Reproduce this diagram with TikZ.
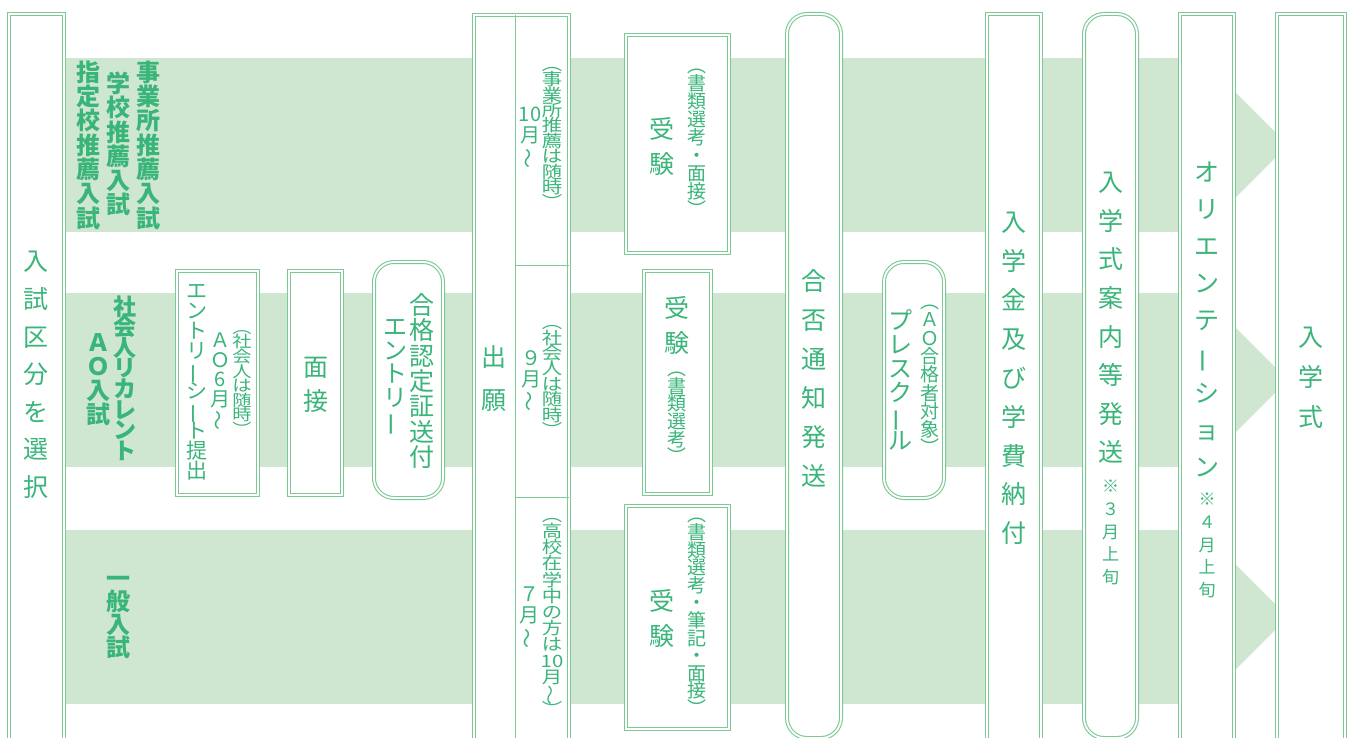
\documentclass[tikz,border=0pt]{standalone}
\usepackage{fontspec}
\newfontfamily\jp{Noto Sans CJK JP}
\newfontfamily\jpw[FakeStretch=1.2]{Noto Sans CJK JP}
\usepackage{tikz}
\usetikzlibrary{positioning}
\definecolor{bandgreen}{RGB}{207,231,209}
\definecolor{linegreen}{RGB}{125,201,150}
\definecolor{txtgreen}{RGB}{58,181,122}
\newcommand{\tsize}[2]{\jp\fontsize{#1}{#2}\selectfont\lineskiplimit=-50pt\relax}
\newcommand{\tsizew}[2]{\jpw\fontsize{#1}{#2}\selectfont\lineskiplimit=-50pt\relax}
\newcommand{\chouon}{\rotatebox[origin=c]{90}{ー}}
\newcommand{\namisen}{\rotatebox[origin=c]{90}{～}}
\begin{document}
\begin{tikzpicture}[x=0.5pt,y=-0.5pt,
  flowbox/.style={draw=linegreen,double=white,double distance=0.9pt,line width=0.55pt,fill=white,inner sep=0pt},
  roundbox/.style={flowbox,rounded corners=10pt},
  vtxt/.style={align=center,inner sep=0pt,text=txtgreen},
  bandlabel/.style={vtxt,font=\tsize{12}{12.15}\bfseries}]
\useasboundingbox (0,0) rectangle (1354,738);
% bands with arrow heads
\foreach \yt in {58,293,530}{
  \fill[bandgreen] (50,\yt) rectangle (1236,\yt+174);
  \fill[bandgreen] (1236,\yt+35) -- (1288,\yt+87) -- (1236,\yt+139) -- cycle;
}
% boxes
\node[flowbox,minimum width=27.5pt,minimum height=372pt] (select) at (36.5,386) {};
\node[flowbox,minimum width=40.5pt,minimum height=112pt] (entry) at (217.5,383) {};
\node[flowbox,minimum width=26.5pt,minimum height=112pt] (interview) at (315.5,383) {};
\node[roundbox,minimum width=34.5pt,minimum height=118pt] (cert) at (408.5,380) {};
\node[flowbox,minimum width=47.5pt,minimum height=371.5pt] (apply) at (521.5,386.5) {};
\node[flowbox,minimum width=51.5pt,minimum height=109pt] (examone) at (677.5,144) {};
\node[flowbox,minimum width=33.5pt,minimum height=111.5pt] (examtwo) at (677.5,382.5) {};
\node[flowbox,minimum width=51.5pt,minimum height=111.5pt] (examthree) at (677.5,617.5) {};
\node[roundbox,minimum width=27pt,minimum height=362pt] (result) at (814,376) {};
\node[roundbox,minimum width=30pt,minimum height=118pt] (school) at (914,380) {};
\node[flowbox,minimum width=27pt,minimum height=372pt] (fee) at (1014,386) {};
\node[roundbox,minimum width=26.5pt,minimum height=362pt] (guide) at (1110.5,376) {};
\node[flowbox,minimum width=27pt,minimum height=372pt] (orient) at (1207,386) {};
\node[flowbox,minimum width=34pt,minimum height=372pt] (ceremony) at (1311,386) {};
% cells of the application box
\draw[linegreen,line width=0.5pt] (515,15) -- (515,760) (515,265) -- (569,265) (515,497) -- (569,497);
% band labels
\node[bandlabel] (lb-office) at (148,145) {事\\業\\所\\推\\薦\\入\\試};
\node[bandlabel] (lb-school) at (118,144) {学\\校\\推\\薦\\入\\試};
\node[bandlabel] (lb-desig) at (88,145) {指\\定\\校\\推\\薦\\入\\試};
\node[bandlabel,font=\tsize{11.5}{10.3}\bfseries] (lb-recur) at (125,378) {社\\会\\人\\リ\\カ\\レ\\ン\\ト};
\node[bandlabel,font=\tsize{12}{12}\bfseries] (lb-ao) at (98,380) {Ａ\\Ｏ\\入\\試};
\node[bandlabel,font=\tsize{12}{11.5}\bfseries] (lb-general) at (118,618) {一\\般\\入\\試};
% texts
\node[vtxt,font=\tsize{12.5}{18.8}] (t-select) at (36.5,375) {入\\試\\区\\分\\を\\選\\択};
\node[vtxt,font=\tsize{10.5}{10}] (t-entry) at (197,382) {エ\\ン\\ト\\リ\\\chouon\\シ\\\chouon\\ト\\提\\出};
\node[vtxt,font=\tsize{10}{9.8}] (t-entry-ao) at (220,382) {Ａ\\Ｏ\\6\\月\\\namisen};
\node[vtxt,font=\tsizew{8}{7.3}] (t-entry-note) at (242,383) {︵\\社\\会\\人\\は\\随\\時\\︶};
\node[vtxt,font=\tsize{12.5}{17}] (t-interview) at (315.5,385) {面\\接};
\node[vtxt,font=\tsize{12.5}{12.7}] (t-cert) at (422,381) {合\\格\\認\\定\\証\\送\\付};
\node[vtxt,font=\tsize{12}{11.7}] (t-cert-entry) at (395,378) {エ\\ン\\ト\\リ\\\chouon};
\node[vtxt,font=\tsize{12.5}{21.5}] (t-apply) at (494,379) {出\\願};
\node[vtxt,font=\tsizew{8.5}{7.7}] (t-office-note) at (552,138) {︵\\事\\業\\所\\推\\薦\\は\\随\\時\\︶};
\node[vtxt,font=\tsize{10}{10.5}] (t-office-date) at (530,138) {10\\月\\\namisen};
\node[vtxt,font=\tsizew{8.5}{7.7}] (t-recur-note) at (552,381) {︵\\社\\会\\人\\は\\随\\時\\︶};
\node[vtxt,font=\tsize{10}{10.5}] (t-recur-date) at (531,381) {９\\月\\\namisen};
\node[vtxt,font=\tsizew{8.5}{8.1}] (t-high-note) at (552,617) {︵\\高\\校\\在\\学\\中\\の\\方\\は\\10\\月\\\namisen\\︶};
\node[vtxt,font=\tsize{10}{10.5}] (t-high-date) at (529,618) {７\\月\\\namisen};
\node[vtxt,font=\tsize{12.5}{17.5}] (t-exam1) at (662,146) {受\\験};
\node[vtxt,font=\tsize{9.5}{9}] (t-exam1-note) at (697,143) {︵\\書\\類\\選\\考\\・\\面\\接\\︶};
\node[vtxt,font=\tsize{12.5}{17.5}] (t-exam2) at (677,325) {受\\験};
\node[vtxt,font=\tsize{9.5}{8.8}] (t-exam2-note) at (677,418) {︵\\書\\類\\選\\考\\︶};
\node[vtxt,font=\tsize{12.5}{17.5}] (t-exam3) at (662,618) {受\\験};
\node[vtxt,font=\tsize{9.5}{8.8}] (t-exam3-note) at (697,617) {︵\\書\\類\\選\\考\\・\\筆\\記\\・\\面\\接\\︶};
\node[vtxt,font=\tsize{12.5}{19.5}] (t-result) at (814,378) {合\\否\\通\\知\\発\\送};
\node[vtxt,font=\tsize{9.5}{9.15}] (t-school-note) at (930,380) {︵\\Ａ\\Ｏ\\合\\格\\者\\対\\象\\︶};
\node[vtxt,font=\tsize{12}{12}] (t-school) at (900,380) {プ\\レ\\ス\\ク\\\chouon\\ル};
\node[vtxt,font=\tsize{12.5}{19.45}] (t-fee) at (1014,378.5) {入\\学\\金\\及\\び\\学\\費\\納\\付};
\node[vtxt,font=\tsize{12.5}{19.3}] (t-guide) at (1110.5,318) {入\\学\\式\\案\\内\\等\\発\\送};
\node[vtxt,font=\tsize{8.5}{11.4}] (t-guide-note) at (1110.5,532.5) {※\\３\\月\\上\\旬};
\node[vtxt,font=\tsize{12.5}{18.45}] (t-orient) at (1207,319.5) {オ\\リ\\エ\\ン\\テ\\\chouon\\シ\\ョ\\ン};
\node[vtxt,font=\tsize{8.5}{11.4}] (t-orient-note) at (1207,545.5) {※\\４\\月\\上\\旬};
\node[vtxt,font=\tsize{12.5}{20}] (t-ceremony) at (1311,378) {入\\学\\式};
\end{tikzpicture}
\end{document}
